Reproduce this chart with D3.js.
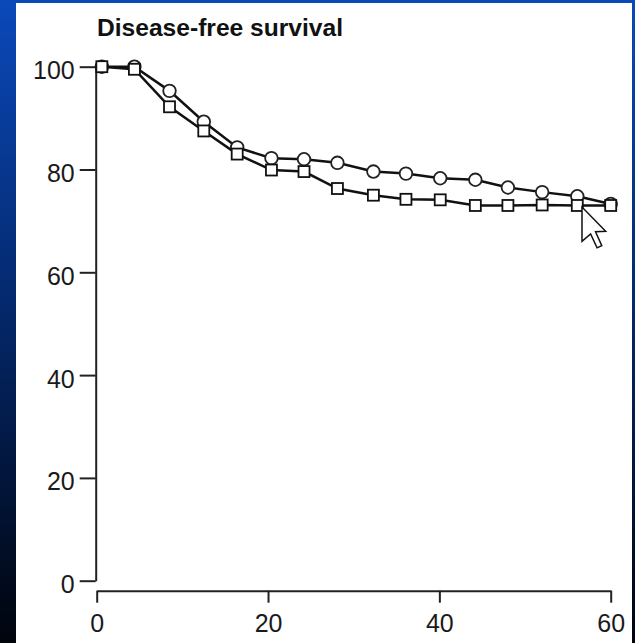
<!DOCTYPE html>
<html>
<head>
<meta charset="utf-8">
<script src="https://cdn.jsdelivr.net/npm/d3@7"></script>
<style>
  html, body { margin: 0; padding: 0; background: #000; }
  svg { display: block; }
</style>
</head>
<body>
<svg id="chart" width="635" height="643"></svg>
<script>
// months
const months = [0.6, 4.4, 8.5, 12.5, 16.4, 20.4, 24.2, 28.1, 32.3, 36.1, 40.1, 44.2, 48, 52, 56.1, 60]
// disease-free survival, %
const circleSeries = [100, 100, 95.3, 89.3, 84.3, 82.2, 82, 81.3, 79.6, 79.2, 78.3, 78, 76.5, 75.6, 74.8, 73.3]
const squareSeries = [100, 99.5, 92.2, 87.5, 83, 79.9, 79.6, 76.3, 75, 74.2, 74.1, 73, 73, 73.1, 73, 73]
const yTicks = [0, 20, 40, 60, 80, 100]
const xTicks = [0, 20, 40, 60]
const title = 'Disease-free survival'

const svg = d3.select('#chart')

// slide background
const defs = svg.append('defs')
const grad = defs.append('linearGradient')
  .attr('id', 'bg')
  .attr('x1', 0).attr('y1', 0).attr('x2', 0).attr('y2', 1)
grad.append('stop').attr('offset', '0%').attr('stop-color', '#0b49b9')
grad.append('stop').attr('offset', '45%').attr('stop-color', '#042a70')
grad.append('stop').attr('offset', '100%').attr('stop-color', '#00040c')

svg.append('rect')
  .attr('width', 635).attr('height', 643)
  .attr('fill', 'url(#bg)')

svg.append('rect')
  .attr('x', 16).attr('y', 3)
  .attr('width', 616).attr('height', 640)
  .attr('fill', '#fff')

const x = d3.scaleLinear().domain([0, 60]).range([96.7, 610.7])
const y = d3.scaleLinear().domain([0, 100]).range([580.7, 66.7])

const font = '"Liberation Sans", Arial, sans-serif'

// y axis
const yAxis = svg.append('g')
  .attr('transform', 'translate(95.7,0)')
  .call(d3.axisLeft(y).tickValues(yTicks).tickSize(16).tickSizeOuter(0).tickPadding(5))
yAxis.select('.domain').attr('stroke', '#222').attr('stroke-width', 2)
yAxis.selectAll('.tick line').attr('stroke', '#222').attr('stroke-width', 2)
yAxis.selectAll('.tick text')
  .attr('font-family', font)
  .attr('font-size', 25)
  .attr('fill', '#1a1a1a')
  .attr('dy', 12)
  .attr('y', 0)

// x axis
const xAxis = svg.append('g')
  .attr('transform', 'translate(0,590.7)')
  .call(d3.axisBottom(x).tickValues(xTicks).tickSize(12).tickSizeOuter(0).tickPadding(0))
xAxis.select('.domain').attr('stroke', '#222').attr('stroke-width', 2)
xAxis.selectAll('.tick line').attr('stroke', '#222').attr('stroke-width', 2)
xAxis.selectAll('.tick text')
  .attr('font-family', font)
  .attr('font-size', 25)
  .attr('fill', '#1a1a1a')
  .attr('dy', 0)
  .attr('y', 41)

// title
svg.append('text')
  .attr('x', 97)
  .attr('y', 35.5)
  .attr('font-family', font)
  .attr('font-weight', 'bold')
  .attr('font-size', 24)
  .attr('textLength', 246)
  .attr('lengthAdjust', 'spacingAndGlyphs')
  .attr('fill', '#111')
  .text(title)

const line = d3.line()
  .x((d, i) => x(months[i]))
  .y(d => y(d))

// circles series
svg.append('path')
  .datum(circleSeries)
  .attr('fill', 'none')
  .attr('stroke', '#111')
  .attr('stroke-width', 2.5)
  .attr('d', line)

svg.append('g')
  .selectAll('circle')
  .data(circleSeries)
  .enter()
  .append('circle')
  .attr('cx', (d, i) => x(months[i]))
  .attr('cy', d => y(d))
  .attr('r', 6.3)
  .attr('fill', '#fff')
  .attr('stroke', '#222')
  .attr('stroke-width', 1.8)

// squares series
svg.append('path')
  .datum(squareSeries)
  .attr('fill', 'none')
  .attr('stroke', '#111')
  .attr('stroke-width', 2.5)
  .attr('d', line)

const side = 11
svg.append('g')
  .selectAll('rect')
  .data(squareSeries)
  .enter()
  .append('rect')
  .attr('x', (d, i) => x(months[i]) - side / 2)
  .attr('y', d => y(d) - side / 2)
  .attr('width', side)
  .attr('height', side)
  .attr('fill', '#fff')
  .attr('stroke', '#111')
  .attr('stroke-width', 1.8)

// mouse pointer left on the slide
const cursor = [[0, 0], [0, 16], [4, 12.5], [7, 19], [9.2, 18], [6.3, 11.5], [11, 11.3]]
svg.append('polygon')
  .attr('transform', 'translate(582,207) scale(2.15)')
  .attr('points', cursor.map(p => p.join(',')).join(' '))
  .attr('fill', '#fff')
  .attr('stroke', '#111')
  .attr('stroke-width', 0.7)
  .attr('stroke-linejoin', 'miter')
</script>
</body>
</html>
